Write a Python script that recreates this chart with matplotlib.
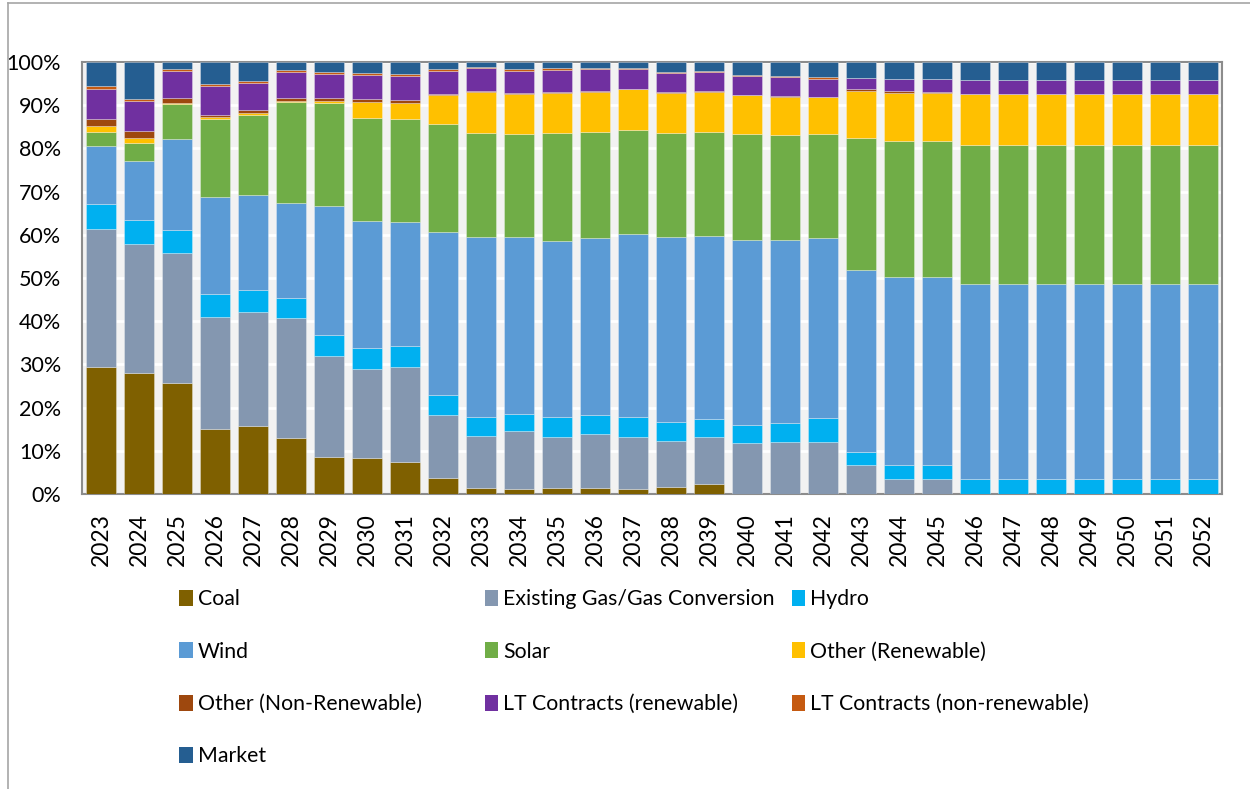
import numpy as np
import matplotlib
matplotlib.use("Agg")
import matplotlib.pyplot as plt
from matplotlib.patches import Patch
from matplotlib.lines import Line2D

plt.rcParams['font.family'] = ['Lato', 'DejaVu Sans']

# data (share of generation, %)
years = [str(y) for y in range(2023, 2053)]

coal = [29.3, 27.9, 25.8, 15.1, 15.7, 13.0, 8.6, 8.4, 7.3, 3.6, 1.5, 1.2, 1.3, 1.3, 1.2,
        1.7, 2.3, 0, 0, 0, 0, 0, 0, 0, 0, 0, 0, 0, 0, 0]
gas = [32.0, 30.0, 30.1, 25.8, 26.4, 27.8, 23.4, 20.5, 22.1, 14.7, 12.0, 13.3, 12.0, 12.6, 12.1,
       10.5, 10.9, 11.7, 12.0, 12.0, 6.6, 3.4, 3.4, 0, 0, 0, 0, 0, 0, 0]
hydro = [5.8, 5.5, 5.1, 5.5, 5.1, 4.6, 4.7, 4.8, 4.8, 4.7, 4.4, 4.1, 4.4, 4.5, 4.5,
         4.5, 4.2, 4.2, 4.4, 5.7, 3.2, 3.2, 3.3, 3.5, 3.4, 3.4, 3.4, 3.4, 3.4, 3.4]
wind = [13.4, 13.8, 21.2, 22.4, 21.9, 21.9, 29.9, 29.4, 28.8, 37.6, 41.5, 41.0, 40.9, 41.0, 42.5,
        42.9, 42.3, 42.9, 42.4, 41.6, 42.1, 43.6, 43.6, 45.1, 45.1, 45.1, 45.1, 45.1, 45.1, 45.1]
solar = [3.4, 4.0, 8.0, 18.1, 18.7, 23.4, 24.0, 24.0, 23.8, 25.1, 24.2, 23.7, 25.0, 24.4, 24.0,
         24.0, 24.2, 24.6, 24.4, 24.1, 30.4, 31.4, 31.3, 32.3, 32.4, 32.4, 32.4, 32.4, 32.4, 32.4]
other_ren = [1.4, 1.1, 0.4, 0.4, 0.4, 0.3, 0.4, 3.6, 3.8, 6.6, 9.4, 9.4, 9.2, 9.3, 9.4,
             9.3, 9.2, 8.9, 8.8, 8.5, 11.1, 11.3, 11.2, 11.8, 11.8, 11.8, 11.8, 11.8, 11.8, 11.8]
other_nonren = [1.5, 1.7, 1.1, 0.4, 0.6, 0.7, 0.6, 0.7, 0.5, 0.3, 0.15, 0.15, 0.15, 0.15, 0.15,
                0.15, 0.15, 0.15, 0.15, 0.15, 0.3, 0.3, 0.2, 0, 0, 0, 0, 0, 0, 0]
lt_ren = [7.0, 7.0, 6.3, 6.8, 6.4, 6.0, 5.7, 5.6, 5.7, 5.4, 5.3, 5.2, 5.2, 5.1, 4.6,
          4.5, 4.4, 4.3, 4.4, 4.1, 2.7, 2.8, 3.0, 3.1, 3.1, 3.1, 3.1, 3.1, 3.1, 3.1]
lt_nonren = [0.6, 0.4, 0.4, 0.5, 0.4, 0.4, 0.5, 0.4, 0.4, 0.3, 0.3, 0.4, 0.3, 0.4, 0.2,
             0.3, 0.3, 0.3, 0.3, 0.4, 0, 0, 0, 0, 0, 0, 0, 0, 0, 0]
market = [5.6, 8.6, 1.6, 5.0, 4.4, 1.9, 2.2, 2.6, 2.8, 1.7, 1.2, 1.6, 1.5, 1.3, 1.4,
          2.2, 2.1, 3.0, 3.2, 3.5, 3.6, 4.0, 4.0, 4.2, 4.2, 4.2, 4.2, 4.2, 4.2, 4.2]

labels = ["Coal", "Existing Gas/Gas Conversion", "Hydro", "Wind", "Solar",
          "Other (Renewable)", "Other (Non-Renewable)", "LT Contracts (renewable)",
          "LT Contracts (non-renewable)", "Market"]
colors = ["#7f6000", "#8497b0", "#00b0f0", "#5b9bd5", "#70ad47",
          "#ffc000", "#9e480e", "#7030a0", "#c55a11", "#255e91"]
series = [coal, gas, hydro, wind, solar, other_ren, other_nonren, lt_ren, lt_nonren, market]

data = np.array(series, dtype=float)
data = data / data.sum(axis=0) * 100  # 100% stacked

fig = plt.figure(figsize=(12.5, 7.89), dpi=100)
ax = fig.add_axes([0.0656, 0.3739, 0.912, 0.5475])
ax.set_facecolor("#f2f2f2")

x = np.arange(len(years))
bottom = np.zeros(len(years))
for vals, lab, col in zip(data, labels, colors):
    ax.bar(x, vals, 0.78, bottom=bottom, color=col, label=lab,
           edgecolor=(1, 1, 1, 0.35), linewidth=0.6, zorder=3)
    bottom += vals

ax.set_xlim(-0.5, 29.5)
ax.set_ylim(0, 100)
ax.set_yticks(range(0, 101, 10))
ax.set_yticklabels([f"{v}%" for v in range(0, 101, 10)])
ax.set_xticks(x)
ax.set_xticklabels(years, rotation=90)
ax.tick_params(axis='both', length=0, colors="#000000")
ax.tick_params(axis='y', pad=15, labelsize=15.5)
ax.tick_params(axis='x', pad=14, labelsize=16.5)
ax.grid(axis='y', color="white", linewidth=2, zorder=1)
ax.set_axisbelow(True)
for s in ax.spines.values():
    s.set_color("#8c8c8c")
    s.set_linewidth(1.5)

# legend: three columns, filled row by row like the original
handles = [Patch(facecolor=c, edgecolor='none') for c in colors]
col_x = [0.1435, 0.388, 0.6335]
for j in range(3):
    idx = list(range(j, len(labels), 3))
    fig.legend([handles[i] for i in idx], [labels[i] for i in idx],
               loc='upper left', bbox_to_anchor=(col_x[j], 0.253),
               frameon=False, fontsize=15.3, handlelength=0.62, handleheight=0.78,
               handletextpad=0.25, labelspacing=1.52, borderpad=0, borderaxespad=0)

# outer frame of the figure box (partly cut in the original)
fig.add_artist(Line2D([8 / 1250, 1], [1 - 3 / 789, 1 - 3 / 789], color="#a6a6a6", lw=1.2))
fig.add_artist(Line2D([8 / 1250, 8 / 1250], [0, 1 - 3 / 789], color="#a6a6a6", lw=1.2))

fig.savefig("out.png", dpi=100)
